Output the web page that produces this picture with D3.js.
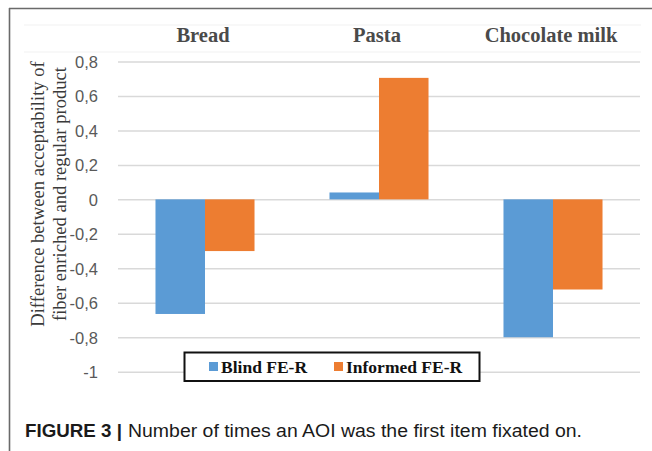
<!DOCTYPE html>
<html>
<head>
<meta charset="utf-8">
<script src="https://cdn.jsdelivr.net/npm/d3@7"></script>
<style>
  html, body { margin: 0; padding: 0; background: #fff; }
  svg { display: block; }
</style>
</head>
<body>
<svg id="chart" width="652" height="451"></svg>
<script>
// Products and the two difference series (fiber enriched minus regular)
const products = ["Bread", "Pasta", "Chocolate milk"];
const seriesNames = ["Blind FE-R", "Informed FE-R"];
const blindFER = [-0.665, 0.04, -0.8];
const informedFER = [-0.3, 0.705, -0.523];
const yTicks = [0.8, 0.6, 0.4, 0.2, 0, -0.2, -0.4, -0.6, -0.8, -1];
const seriesColors = ["#5B9BD5", "#ED7D31"];

const rows = products.map((p, i) => ({ product: p, values: [blindFER[i], informedFER[i]] }));

const svg = d3.select("#chart");
const W = 652, H = 451;

// Panel frame: top rule and left rule
svg.append("line").attr("x1", 9).attr("x2", W).attr("y1", 8.5).attr("y2", 8.5)
  .attr("stroke", "#6a6a6a").attr("stroke-width", 1.6);
svg.append("line").attr("x1", 9.5).attr("x2", 9.5).attr("y1", 8).attr("y2", H)
  .attr("stroke", "#6a6a6a").attr("stroke-width", 1.6);

// Faint rules above and below the product headers
[25, 52].forEach(yy => {
  svg.append("line").attr("x1", 24).attr("x2", 641).attr("y1", yy).attr("y2", yy)
    .attr("stroke", "#f1f1f1").attr("stroke-width", 1);
});

const x0 = d3.scaleBand().domain(products).range([118, 640]).paddingInner(0).paddingOuter(0);
const x1 = d3.scaleBand().domain(seriesNames).range([0, x0.bandwidth()]).paddingInner(0).paddingOuter(0.757);
const y = d3.scaleLinear().domain([-1, 0.8]).range([371.7, 61.5]);

// Gridlines via a left axis with full-width ticks
const grid = svg.append("g").attr("transform", "translate(118,0)")
  .call(d3.axisLeft(y).tickValues(yTicks).tickSize(-522).tickFormat(""));
grid.select(".domain").remove();
grid.selectAll(".tick line").attr("stroke", "#d9d9d9").attr("stroke-width", 1.5);

// Tick labels with comma decimals
const fmt = v => String(v).replace(".", ",");
const axis = svg.append("g").attr("transform", "translate(98,0)")
  .call(d3.axisLeft(y).tickValues(yTicks).tickSize(0).tickPadding(0).tickFormat(fmt));
axis.select(".domain").remove();
axis.selectAll(".tick text")
  .attr("font-family", "'Liberation Sans', Arial, sans-serif")
  .attr("font-size", 16.5).attr("fill", "#595959").attr("dy", "0.36em");

// Bars
const groups = svg.append("g").selectAll("g").data(rows).join("g")
  .attr("transform", d => `translate(${x0(d.product)},0)`);
groups.selectAll("rect")
  .data(d => d.values.map((v, i) => ({ key: seriesNames[i], value: v, i })))
  .join("rect")
  .attr("x", d => x1(d.key))
  .attr("width", x1.bandwidth())
  .attr("y", d => y(Math.max(0, d.value)))
  .attr("height", d => Math.abs(y(d.value) - y(0)))
  .attr("fill", d => seriesColors[d.i]);

// Product headers
svg.append("g").selectAll("text").data(products).join("text")
  .attr("x", d => x0(d) + x0.bandwidth() / 2 - 2)
  .attr("y", 42)
  .attr("text-anchor", "middle")
  .attr("font-family", "'Liberation Serif', 'Times New Roman', serif")
  .attr("font-weight", "bold")
  .attr("font-size", 20.5)
  .attr("fill", "#4a4a4a")
  .text(d => d);

// Y axis title, two lines
const yTitle = svg.append("text")
  .attr("transform", "translate(0,194) rotate(-90)")
  .attr("text-anchor", "middle")
  .attr("font-family", "'Liberation Serif', 'Times New Roman', serif")
  .attr("font-size", 18.6)
  .attr("fill", "#3a3a3a");
yTitle.append("tspan").attr("x", 0).attr("y", 44).text("Difference between acceptability of");
yTitle.append("tspan").attr("x", 0).attr("y", 66).text("fiber enriched and regular product");

// Legend
const legend = svg.append("g");
legend.append("rect").attr("x", 184.5).attr("y", 352.5).attr("width", 295).attr("height", 28.5)
  .attr("fill", "#fff").attr("stroke", "#111").attr("stroke-width", 2);
const legendX = [209, 334];
const items = legend.selectAll("g.item").data(seriesNames).join("g").attr("class", "item")
  .attr("transform", (d, i) => `translate(${legendX[i]},0)`);
items.append("rect").attr("x", 0).attr("y", 362).attr("width", 9).attr("height", 9)
  .attr("fill", (d, i) => seriesColors[i]);
items.append("text").attr("x", 12).attr("y", 373)
  .attr("font-family", "'Liberation Serif', 'Times New Roman', serif")
  .attr("font-weight", "bold").attr("font-size", 17.5).attr("fill", "#111")
  .text(d => d);

// Caption
const capFont = "'Liberation Sans', Arial, Helvetica, sans-serif";
svg.append("text").attr("x", 25).attr("y", 437)
  .attr("font-family", capFont).attr("font-size", 17.5).attr("font-weight", "bold")
  .attr("fill", "#1a1a1a")
  .attr("textLength", 97).attr("lengthAdjust", "spacingAndGlyphs")
  .text("FIGURE 3 |");
svg.append("text").attr("x", 128).attr("y", 437)
  .attr("font-family", capFont).attr("font-size", 17.5)
  .attr("fill", "#1a1a1a")
  .attr("textLength", 454).attr("lengthAdjust", "spacingAndGlyphs")
  .text("Number of times an AOI was the first item fixated on.");
</script>
</body>
</html>
